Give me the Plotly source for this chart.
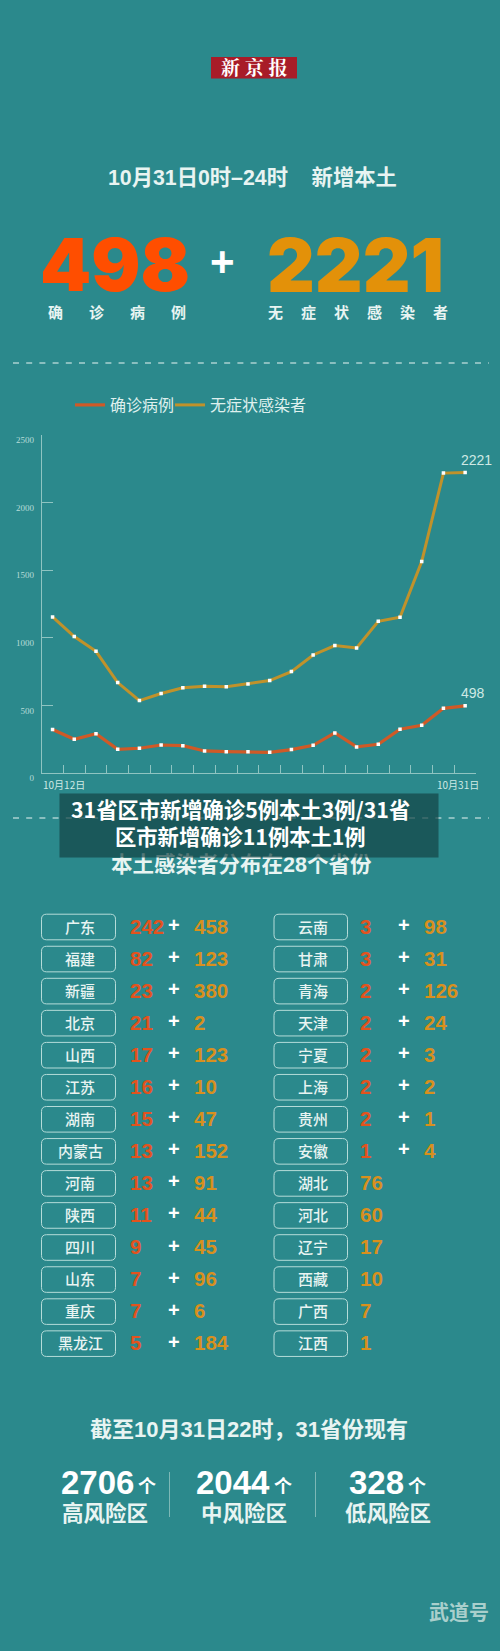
import plotly.graph_objects as go

W = 500
H = 1651
BG = '#2b898c'
RED = '#cf5a27'
YELLOW = '#c0922b'
RED_NUM = '#e2531e'
YELLOW_NUM = '#d8901e'
PALE = '#e8f4f2'
CJK = 'Noto Sans CJK SC'
NUM = 'Liberation Sans'
MIXED = 'Liberation Sans, Noto Sans CJK SC'

# 折线数据
days = list(range(20))
confirmed = [323, 251, 293, 177, 185, 209, 204, 165, 160, 160, 155, 175, 207, 298, 195, 214, 325, 355, 480, 498]
asymptomatic = [1155, 1010, 901, 670, 537, 589, 631, 643, 640, 660, 685, 751, 874, 943, 926, 1123, 1153, 1564, 2217, 2221]
y_ticks = [0, 500, 1000, 1500, 2000, 2500]

# 省份数据
left_names = ['广东', '福建', '新疆', '北京', '山西', '江苏', '湖南', '内蒙古', '河南', '陕西', '四川', '山东', '重庆', '黑龙江']
left_conf = [242, 82, 23, 21, 17, 16, 15, 13, 13, 11, 9, 7, 7, 5]
left_asym = [458, 123, 380, 2, 123, 10, 47, 152, 91, 44, 45, 96, 6, 184]
right_names = ['云南', '甘肃', '青海', '天津', '宁夏', '上海', '贵州', '安徽', '湖北', '河北', '辽宁', '西藏', '广西', '江西']
right_conf = [3, 3, 2, 2, 2, 2, 2, 1, None, None, None, None, None, None]
right_asym = [98, 31, 126, 24, 3, 2, 1, 4, 76, 60, 17, 10, 7, 1]

# 风险区
risk_counts = ['2706', '2044', '328']
risk_names = ['高风险区', '中风险区', '低风险区']


def px(x):
    return x / W


def py(y):
    return 1 - y / H


annotations = []
shapes = []


def label(x, y, text, size, color=PALE, anchor='center', weight=700, family=CJK):
    annotations.append(dict(
        x=px(x), y=py(y), xref='paper', yref='paper', text=text, showarrow=False,
        xanchor=anchor, yanchor='middle', borderpad=0,
        font=dict(size=size, color=color, family=family, weight=weight)))


def dash_line(y):
    shapes.append(dict(type='line', xref='paper', yref='paper', x0=px(13), x1=px(489), y0=py(y), y1=py(y),
                       line=dict(color='#eaf5f3', width=1, dash='6px,7.2px')))


def round_box(x0, y0, x1, y1, r=5):
    xa, xb = px(x0), px(x1)
    ya, yb = py(y0), py(y1)
    rx = r / W
    ry = r / H
    path = (f'M {xa + rx} {ya} L {xb - rx} {ya} Q {xb} {ya} {xb} {ya - ry} '
            f'L {xb} {yb + ry} Q {xb} {yb} {xb - rx} {yb} '
            f'L {xa + rx} {yb} Q {xa} {yb} {xa} {yb + ry} '
            f'L {xa} {ya - ry} Q {xa} {ya} {xa + rx} {ya} Z')
    shapes.append(dict(type='path', xref='paper', yref='paper', path=path,
                       line=dict(color='#b5dcd9', width=1)))


fig = go.Figure()

fig.add_trace(go.Scatter(x=days, y=confirmed, mode='lines', name='确诊病例',
                         line=dict(color=RED, width=3.2)))
fig.add_trace(go.Scatter(x=days, y=asymptomatic, mode='lines', name='无症状感染者', legend='legend2',
                         line=dict(color=YELLOW, width=3)))
for series in [confirmed, asymptomatic]:
    fig.add_trace(go.Scatter(x=days, y=series, mode='markers', showlegend=False,
                             marker=dict(symbol='square', size=3.5, color='white')))

# 报头
shapes.append(dict(type='rect', xref='paper', yref='paper', x0=px(211), x1=px(297), y0=py(57), y1=py(78.5),
                   fillcolor='#a81c28', line=dict(width=0)))
label(254, 67, '新 京 报', 19, 'white', family='Noto Serif CJK SC, ' + CJK)

label(252, 177.5, '10月31日0时–24时 &nbsp; &nbsp;新增本土', 21.3, family=MIXED)

label(115, 265, '498', 73, '#ff4e00', weight=900, family='Inter')
label(355, 265, '2221', 74, '#e39109', weight=900, family='Inter')
label(222, 262, '+', 42, 'white', family=NUM)

for x, ch in zip([55, 96, 137, 178], '确诊病例'):
    label(x, 311, ch, 15)
for x, ch in zip([275, 308, 341, 374, 407, 440], '无症状感染者'):
    label(x, 311, ch, 15)

dash_line(363)
dash_line(818)

# 折线标注
annotations.append(dict(x=days[-1], y=asymptomatic[-1], xref='x', yref='y', text='2221', showarrow=False,
                        xanchor='left', yanchor='bottom', xshift=-6, yshift=3,
                        font=dict(size=14, color='#cfe9e5', family=NUM)))
annotations.append(dict(x=days[-1], y=confirmed[-1], xref='x', yref='y', text='498', showarrow=False,
                        xanchor='left', yanchor='bottom', xshift=-6, yshift=3,
                        font=dict(size=14, color='#cfe9e5', family=NUM)))
label(63.5, 784, '10月12日', 10, '#cfe9e5', weight=400)
label(458, 784, '10月31日', 10, '#cfe9e5', weight=400)

label(241, 864.5, '本土感染者分布在28个省份', 21.5, family=MIXED)

# 遮挡条
annotations.append(dict(x=px(249), y=py(825.5), xref='paper', yref='paper', text='&nbsp;', showarrow=False,
                        width=378, height=63, bgcolor='rgba(20,67,69,0.7)', borderpad=0,
                        font=dict(size=12)))
label(240.5, 809, '31省区市新增确诊5例本土3例/31省', 21.3, 'white')
label(240.5, 835, '区市新增确诊11例本土1例', 21.3, 'white')

# 省份表
row_y = [927 + 32.05 * i for i in range(14)]
for y, name, c, a in zip(row_y, left_names, left_conf, left_asym):
    round_box(41.5, y - 12.8, 115.5, y + 12.8)
    label(80, y - 1, name, 15, weight=500)
    label(129, y - 1, str(c), 20.5, RED_NUM, 'left', family=NUM)
    label(174, y - 2, '+', 20, 'white', family=NUM)
    label(193, y - 1, str(a), 20.5, YELLOW_NUM, 'left', family=NUM)
for y, name, c, a in zip(row_y, right_names, right_conf, right_asym):
    round_box(274, y - 12.8, 347.5, y + 12.8)
    label(312.5, y - 1, name, 15, weight=500)
    if c is None:
        label(359, y - 1, str(a), 20.5, YELLOW_NUM, 'left', family=NUM)
    else:
        label(359, y - 1, str(c), 20.5, RED_NUM, 'left', family=NUM)
        label(404, y - 2, '+', 20, 'white', family=NUM)
        label(423, y - 1, str(a), 20.5, YELLOW_NUM, 'left', family=NUM)

# 底部
label(248.5, 1429.5, '截至10月31日22时，31省份现有', 22, family=MIXED)
for count, name, right_x, name_x in zip(risk_counts, risk_names, [135, 271, 405], [105, 244, 388]):
    label(right_x, 1482, count, 33, 'white', 'right', family=NUM)
    label(right_x + 12, 1484.5, '个', 18, 'white')
    label(name_x, 1511, name, 21.5, PALE)
for x in [169.5, 315.5]:
    shapes.append(dict(type='line', xref='paper', yref='paper', x0=px(x), x1=px(x), y0=py(1472), y1=py(1517),
                       line=dict(color='#7db8b6', width=1)))

label(459, 1611.5, '武道号', 20, '#a9cfcc')

legend_style = dict(orientation='h', y=py(388), xanchor='left', yanchor='top', bgcolor='rgba(0,0,0,0)',
                    itemwidth=30, font=dict(size=16, color='#dff0ee', family=CJK))

fig.update_layout(
    width=W,
    height=H,
    margin=dict(l=0, r=0, t=0, b=0, autoexpand=False),
    paper_bgcolor=BG,
    plot_bgcolor=BG,
    font=dict(family=CJK, color=PALE),
    shapes=shapes,
    annotations=annotations,
    legend=dict(x=px(70), **legend_style),
    legend2=dict(x=px(170), **legend_style),
    xaxis=dict(domain=[px(41.7), px(476)], range=[-0.5, 19.5], tickvals=[d + 0.5 for d in days],
               ticktext=[''] * 20, ticks='inside', ticklen=8, tickcolor='#8fc4c1', tickwidth=1,
               showline=True, linecolor='#8fc4c1', linewidth=1, showgrid=False, zeroline=False),
    yaxis=dict(domain=[py(773.3), py(434.8)], range=[0, 2500], tickvals=y_ticks,
               ticks='inside', ticklen=11, tickcolor='#8fc4c1', tickwidth=1,
               showline=True, linecolor='#8fc4c1', linewidth=1, showgrid=False, zeroline=False,
               ticklabelshift=5, ticklabelstandoff=5,
               tickfont=dict(size=9, color='#b9dcd8', family='Liberation Serif')),
)

fig.write_html("out.html", post_script="document.body.style.margin='0';", config={'displayModeBar': False})
